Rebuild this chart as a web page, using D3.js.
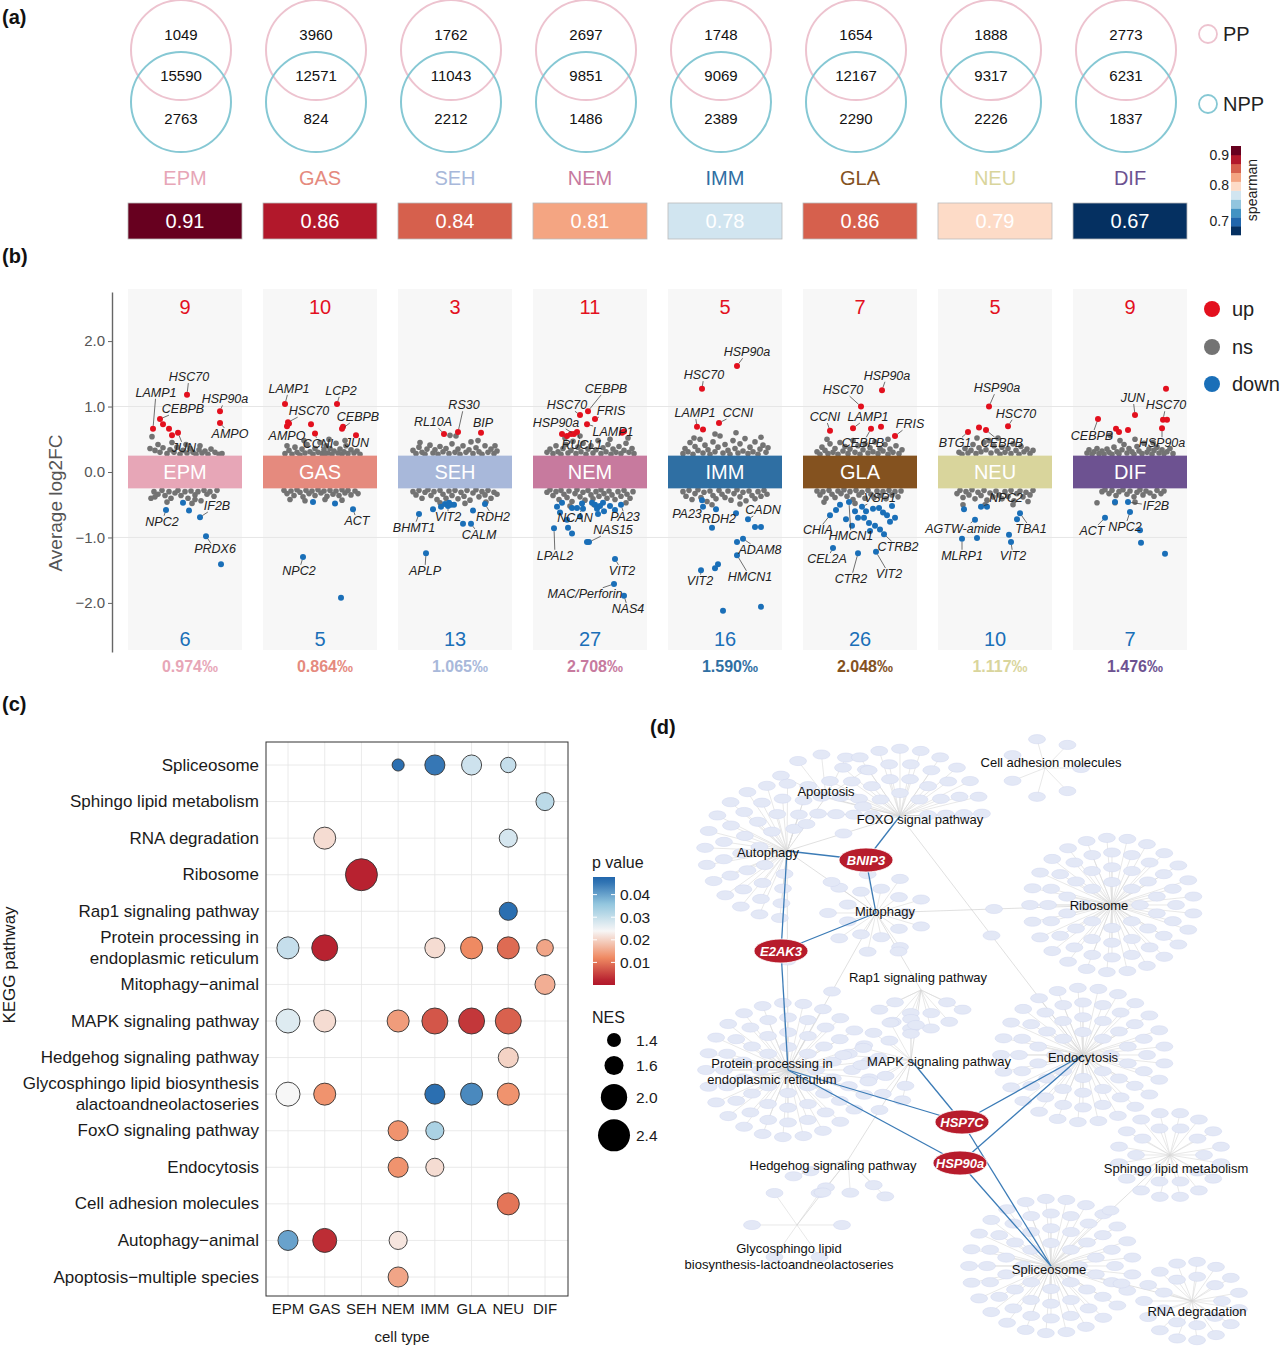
<!DOCTYPE html>
<html>
<head>
<meta charset="utf-8">
<script src="https://cdn.jsdelivr.net/npm/d3@7"></script>
<style>
  body { margin: 0; background: #fff; }
  svg { font-family: "Liberation Sans", Arial, sans-serif; }
</style>
</head>
<body>
<svg id="fig" width="1280" height="1364"></svg>
<script>
// ---------------- DATA ----------------
const cellTypes = ["EPM", "GAS", "SEH", "NEM", "IMM", "GLA", "NEU", "DIF"];
const cellColors = ["#E7A6B7", "#E58A7E", "#A8B8DA", "#C77A9E", "#2F6FA3", "#84521F", "#D9D59C", "#6D5291"];

// (a) venn counts and spearman
const ppOnly = [1049, 3960, 1762, 2697, 1748, 1654, 1888, 2773];
const shared = [15590, 12571, 11043, 9851, 9069, 12167, 9317, 6231];
const nppOnly = [2763, 824, 2212, 1486, 2389, 2290, 2226, 1837];
const spearman = [0.912, 0.8642, 0.84, 0.81, 0.776, 0.856, 0.79, 0.666];
const spearmanTicks = [0.7, 0.8, 0.9];

// (b) DEG summary
const upCount = [9, 10, 3, 11, 5, 7, 5, 9];
const downCount = [6, 5, 13, 27, 16, 26, 10, 7];
const degPermille = [0.974, 0.864, 1.065, 2.708, 1.590, 2.048, 1.117, 1.476];
const log2fcTicks = [-2, -1, 0, 1, 2];

// significant genes: [cell, gene, jitter, log2FC, labelJitter, labelFC]
const degPoints = [
  ["EPM","HSC70",0.04,1.18,0.08,1.45],["EPM","LAMP1",-0.64,0.66,-0.58,1.21],
  ["EPM","CEBPB",-0.5,0.81,-0.04,0.96],["EPM","HSP90a",0.7,0.93,0.8,1.11],
  ["EPM","AMPO",0.7,0.75,0.9,0.58],["EPM","JUN",-0.14,0.6,-0.02,0.37],
  ["EPM","",-0.44,0.73],["EPM","",-0.32,0.66],["EPM","",-0.26,0.56],
  ["EPM","NPC2",-0.38,-0.58,-0.46,-0.76],["EPM","",-0.04,-0.47],["EPM","",0.08,-0.59],
  ["EPM","IF2B",0.3,-0.69,0.64,-0.52],["EPM","PRDX6",0.42,-0.98,0.6,-1.18],["EPM","",0.72,-1.41],

  ["GAS","LAMP1",-0.7,1.04,-0.62,1.27],["GAS","LCP2",0.34,1.04,0.42,1.24],
  ["GAS","HSC70",-0.64,0.76,-0.22,0.93],["GAS","AMPO",-0.66,0.70,-0.66,0.55],
  ["GAS","",-0.62,0.74],["GAS","",-0.18,0.73],["GAS","CEBPB",0.44,0.66,0.76,0.84],
  ["GAS","",0.46,0.69],["GAS","CCNI",-0.1,0.59,-0.04,0.43],["GAS","JUN",0.72,0.56,0.74,0.44],
  ["GAS","",-0.14,-0.46],["GAS","",0.3,-0.48],["GAS","ACT",0.66,-0.57,0.74,-0.75],
  ["GAS","NPC2",-0.34,-1.30,-0.42,-1.51],["GAS","",0.42,-1.92],

  ["SEH","RL10A",-0.22,0.58,-0.44,0.76],["SEH","RS30",0.06,0.61,0.18,1.02],
  ["SEH","BIP",0.52,0.6,0.56,0.75],["SEH","BHMT1",-0.72,-0.64,-0.82,-0.85],
  ["SEH","",-0.44,-0.57],["SEH","",-0.2,-0.49],["SEH","VIT2",-0.14,-0.52,-0.14,-0.69],
  ["SEH","",-0.08,-0.5],["SEH","",-0.12,-0.47],["SEH","",-0.02,-0.5],["SEH","",0.16,-0.79],
  ["SEH","CALM",0.32,-0.79,0.48,-0.96],["SEH","",0.36,-0.59],["SEH","RDH2",0.6,-0.49,0.76,-0.69],
  ["SEH","APLP",-0.58,-1.24,-0.6,-1.51],["SEH","",-0.28,-0.53],

  ["NEM","CEBPB",-0.04,0.93,0.32,1.27],["NEM","HSC70",-0.2,0.87,-0.46,1.02],
  ["NEM","FRIS",0.1,0.81,0.42,0.93],["NEM","LAMP1",-0.06,0.73,0.46,0.61],
  ["NEM","HSP90a",-0.32,0.58,-0.68,0.75],["NEM","",-0.56,0.58],["NEM","",-0.46,0.55],
  ["NEM","",-0.38,0.58],["NEM","RUCL1",-0.26,0.61,-0.16,0.41],["NEM","",0.64,0.6],["NEM","",0.68,0.62],
  ["NEM","",-0.66,-0.53],["NEM","",-0.56,-0.47],["NEM","",-0.36,-0.55],["NEM","",-0.26,-0.55],
  ["NEM","",-0.46,-0.73],["NEM","",-0.44,-0.85],["NEM","",-0.36,-0.94],
  ["NEM","NCAN",-0.14,-0.56,-0.3,-0.7],["NEM","",0.04,-0.47],["NEM","",0.1,-0.5],
  ["NEM","",0.14,-0.56],["NEM","",0.26,-0.47],["NEM","",0.28,-0.6],["NEM","",0.2,-0.52],
  ["NEM","PA23",0.62,-0.5,0.7,-0.69],["NEM","NAS15",-0.02,-1.07,0.46,-0.89],["NEM","",-0.06,-1.07],
  ["NEM","LPAL2",-0.72,-0.86,-0.7,-1.28],["NEM","VIT2",0.5,-1.33,0.64,-1.51],
  ["NEM","MAC/Perforin",0.48,-1.71,-0.1,-1.86],["NEM","NAS4",0.68,-1.89,0.76,-2.09],
  ["NEM","",-0.16,-0.48],["NEM","",0.4,-0.52],["NEM","",-0.6,-0.62],["NEM","",-0.2,-0.68],
  ["NEM","",0.16,-0.64],["NEM","",0.5,-0.58],

  ["IMM","HSP90a",0.24,1.62,0.44,1.83],["IMM","HSC70",-0.46,1.27,-0.42,1.48],
  ["IMM","LAMP1",-0.56,0.69,-0.6,0.9],["IMM","",-0.44,0.65],["IMM","CCNI",-0.12,0.75,0.26,0.9],
  ["IMM","PA23",-0.44,-0.53,-0.76,-0.64],["IMM","RDH2",-0.18,-0.57,-0.12,-0.72],
  ["IMM","",-0.46,-0.43],["IMM","",0.22,-0.63],["IMM","",-0.26,-0.85],
  ["IMM","CADN",0.46,-0.72,0.76,-0.58],["IMM","",0.6,-0.84],["IMM","",0.72,-0.84],
  ["IMM","ADAM8",0.36,-1.02,0.7,-1.19],["IMM","",0.24,-1.07],["IMM","HMCN1",0.24,-1.27,0.5,-1.6],
  ["IMM","VIT2",-0.48,-1.5,-0.5,-1.66],["IMM","",-0.14,-1.41],["IMM","",-0.2,-1.47],
  ["IMM","",-0.04,-2.12],["IMM","",0.72,-2.06],

  ["GLA","HSP90a",0.44,1.25,0.54,1.47],["GLA","HSC70",0.02,1.0,-0.34,1.25],
  ["GLA","CCNI",-0.6,0.63,-0.7,0.84],["GLA","LAMP1",-0.14,0.67,0.16,0.84],
  ["GLA","CEBPB",0.22,0.66,0.06,0.44],["GLA","",0.42,0.69],["GLA","FRIS",0.7,0.55,1.0,0.73],
  ["GLA","VSP1",0.04,-0.53,0.4,-0.4],["GLA","CHIA",-0.6,-0.66,-0.84,-0.89],
  ["GLA","HMCN1",-0.22,-0.46,-0.18,-0.98],["GLA","CTRB2",0.48,-0.95,0.76,-1.15],
  ["GLA","CEL2A",-0.54,-1.16,-0.66,-1.33],["GLA","CTR2",-0.04,-1.24,-0.18,-1.63],
  ["GLA","VIT2",0.32,-1.22,0.58,-1.56],
  ["GLA","",-0.4,-0.5],["GLA","",-0.1,-0.6],["GLA","",-0.04,-0.7],["GLA","",0.08,-0.7],
  ["GLA","",0.18,-0.78],["GLA","",0.3,-0.82],["GLA","",0.38,-0.55],["GLA","",0.46,-0.62],
  ["GLA","",0.54,-0.66],["GLA","",0.64,-0.52],["GLA","",0.6,-0.76],["GLA","",0.26,-0.56],
  ["GLA","",0.12,-0.6],["GLA","",-0.28,-0.72],["GLA","",-0.48,-0.58],["GLA","",0.4,-0.88],
  ["GLA","",0.7,-0.7],["GLA","",-0.16,-0.82],["GLA","",0.2,-0.9],

  ["NEU","HSP90a",-0.12,1.0,0.04,1.28],["NEU","HSC70",0.26,0.7,0.42,0.89],
  ["NEU","BTG1",-0.54,0.61,-0.8,0.44],["NEU","",-0.32,0.68],["NEU","CEBPB",-0.18,0.64,0.14,0.44],
  ["NEU","",-0.62,-0.57],["NEU","NPC2",-0.28,-0.53,0.22,-0.4],["NEU","",-0.16,-0.53],
  ["NEU","AGTW-amide",-0.4,-0.73,-0.64,-0.87],["NEU","TBA1",0.5,-0.63,0.72,-0.87],
  ["NEU","",0.44,-0.72],["NEU","MLRP1",-0.66,-1.02,-0.66,-1.28],["NEU","",-0.36,-1.01],
  ["NEU","VIT2",0.32,-1.07,0.36,-1.28],["NEU","",0.28,-0.96],

  ["DIF","",0.72,1.27],["DIF","JUN",0.1,0.87,0.06,1.13],["DIF","HSC70",0.66,0.8,0.72,1.02],
  ["DIF","",0.74,0.8],["DIF","CEBPB",-0.64,0.81,-0.76,0.55],["DIF","",-0.28,0.66],
  ["DIF","",-0.22,0.61],["DIF","",-0.04,0.64],["DIF","HSP90a",0.64,0.67,0.64,0.44],
  ["DIF","ACT",-0.5,-0.7,-0.76,-0.9],["DIF","",-0.3,-0.46],["DIF","IF2B",-0.04,-0.46,0.52,-0.52],
  ["DIF","NPC2",0.0,-0.61,-0.1,-0.84],["DIF","",0.2,-0.89],["DIF","",0.22,-1.08],["DIF","",0.7,-1.25]
];

// non-significant genes: [jitter, log2FC] per cell type
const nsEPM = [[-0.66,0.54],[-0.7,0.36],[-0.6,0.33],[-0.5,0.3],[-0.44,0.37],[-0.36,0.28],[-0.3,0.34],[-0.22,0.3],[-0.16,0.38],[-0.1,0.27],[-0.04,0.33],[0.04,0.29],[0.1,0.36],[0.16,0.3],[0.22,0.27],[0.28,0.34],[0.34,0.29],[0.4,0.32],[0.46,0.27],[0.52,0.35],[0.6,0.3],[0.68,0.27],[0.74,0.28],[-0.54,0.42],[0.02,0.42],[0.3,0.4],[-0.26,0.45],
  [-0.68,-0.4],[-0.62,-0.3],[-0.54,-0.34],[-0.46,-0.28],[-0.4,-0.36],[-0.32,-0.3],[-0.28,-0.4],[-0.2,-0.32],[-0.14,-0.28],[-0.08,-0.36],[0,-0.3],[0.06,-0.4],[0.12,-0.29],[0.2,-0.35],[0.26,-0.3],[0.32,-0.44],[0.38,-0.28],[0.44,-0.34],[0.5,-0.3],[0.58,-0.37],[0.64,-0.28],[-0.36,-0.46],[0.14,-0.48],[0.2,-0.42],[-0.6,-0.38]];
const nsGAS = [[-0.7,0.28],[-0.62,0.33],[-0.56,0.27],[-0.5,0.38],[-0.46,0.3],[-0.4,0.26],[-0.36,0.35],[-0.3,0.29],[-0.26,0.42],[-0.2,0.31],[-0.14,0.27],[-0.1,0.36],[-0.04,0.3],[0,0.45],[0.04,0.28],[0.08,0.34],[0.12,0.4],[0.16,0.29],[0.2,0.36],[0.24,0.27],[0.28,0.32],[0.32,0.44],[0.36,0.29],[0.4,0.35],[0.44,0.27],[0.48,0.31],[0.52,0.4],[0.56,0.28],[0.62,0.34],[0.68,0.29],[0.74,0.32],[0.8,0.27],[-0.66,0.4],[0.18,0.5],[-0.32,0.48],[0.1,0.28],[0.5,0.48],
  [-0.72,-0.28],[-0.66,-0.33],[-0.58,-0.29],[-0.52,-0.36],[-0.46,-0.27],[-0.4,-0.31],[-0.34,-0.38],[-0.28,-0.28],[-0.22,-0.33],[-0.16,-0.29],[-0.1,-0.36],[-0.04,-0.27],[0.02,-0.32],[0.08,-0.29],[0.14,-0.37],[0.2,-0.28],[0.26,-0.34],[0.32,-0.29],[0.38,-0.36],[0.44,-0.27],[0.5,-0.32],[0.56,-0.28],[0.62,-0.35],[0.7,-0.29],[0.76,-0.33],[-0.3,-0.44],[0.1,-0.42],[0.44,-0.43],[-0.6,-0.42]];
const nsSEH = [[-0.84,0.33],[-0.78,0.28],[-0.72,0.38],[-0.66,0.3],[-0.6,0.27],[-0.56,0.35],[-0.5,0.41],[-0.44,0.29],[-0.4,0.34],[-0.34,0.27],[-0.3,0.39],[-0.24,0.31],[-0.18,0.36],[-0.12,0.28],[-0.06,0.43],[0,0.3],[0.06,0.35],[0.1,0.27],[0.16,0.4],[0.22,0.3],[0.28,0.34],[0.32,0.46],[0.36,0.28],[0.42,0.37],[0.48,0.31],[0.54,0.27],[0.6,0.4],[0.66,0.3],[0.72,0.35],[0.78,0.28],[0.84,0.32],[-0.1,0.56],[0.02,0.55],[0.46,0.48],[0.8,0.4],[-0.7,0.45],
  [-0.84,-0.3],[-0.78,-0.35],[-0.72,-0.28],[-0.66,-0.4],[-0.6,-0.31],[-0.54,-0.27],[-0.48,-0.36],[-0.42,-0.3],[-0.36,-0.42],[-0.3,-0.28],[-0.24,-0.34],[-0.18,-0.4],[-0.12,-0.29],[-0.06,-0.36],[0,-0.28],[0.06,-0.41],[0.12,-0.31],[0.18,-0.37],[0.24,-0.28],[0.3,-0.43],[0.36,-0.32],[0.42,-0.27],[0.48,-0.38],[0.54,-0.3],[0.6,-0.35],[0.66,-0.28],[0.72,-0.4],[0.78,-0.31],[0.84,-0.34],[0.2,-0.48],[-0.3,-0.47],[0.62,-0.46]];
const nsNEM = [[-0.86,0.3],[-0.8,0.35],[-0.74,0.28],[-0.68,0.4],[-0.64,0.31],[-0.58,0.27],[-0.54,0.36],[-0.48,0.42],[-0.44,0.29],[-0.38,0.33],[-0.34,0.47],[-0.28,0.28],[-0.24,0.38],[-0.18,0.31],[-0.14,0.44],[-0.08,0.27],[-0.04,0.35],[0.02,0.4],[0.06,0.29],[0.12,0.34],[0.16,0.48],[0.22,0.28],[0.26,0.37],[0.32,0.31],[0.36,0.42],[0.42,0.27],[0.46,0.35],[0.52,0.3],[0.58,0.39],[0.62,0.28],[0.68,0.33],[0.72,0.44],[0.78,0.3],[0.84,0.36],[0.88,0.28],[-0.5,0.52],[0.4,0.5],[0.76,0.52],[-0.2,0.55],
  [-0.86,-0.31],[-0.8,-0.27],[-0.74,-0.36],[-0.68,-0.3],[-0.62,-0.42],[-0.58,-0.28],[-0.52,-0.34],[-0.46,-0.39],[-0.42,-0.29],[-0.36,-0.45],[-0.3,-0.33],[-0.26,-0.27],[-0.2,-0.38],[-0.14,-0.31],[-0.1,-0.43],[-0.04,-0.28],[0.02,-0.35],[0.06,-0.41],[0.12,-0.3],[0.18,-0.37],[0.22,-0.27],[0.28,-0.33],[0.34,-0.4],[0.38,-0.29],[0.44,-0.35],[0.5,-0.42],[0.56,-0.3],[0.62,-0.37],[0.68,-0.28],[0.74,-0.34],[0.8,-0.4],[0.86,-0.3],[-0.4,-0.52],[0.08,-0.5],[0.72,-0.47]];
const nsIMM = [[-0.84,0.28],[-0.8,0.36],[-0.74,0.31],[-0.7,0.45],[-0.64,0.27],[-0.6,0.39],[-0.54,0.33],[-0.5,0.5],[-0.44,0.29],[-0.4,0.41],[-0.34,0.34],[-0.3,0.27],[-0.24,0.46],[-0.2,0.31],[-0.14,0.38],[-0.1,0.55],[-0.04,0.29],[0,0.42],[0.06,0.33],[0.1,0.27],[0.16,0.48],[0.2,0.36],[0.26,0.29],[0.3,0.43],[0.36,0.32],[0.4,0.51],[0.46,0.28],[0.5,0.38],[0.56,0.31],[0.6,0.46],[0.66,0.27],[0.7,0.35],[0.76,0.41],[0.82,0.3],[0.86,0.37],[-0.62,0.52],[0.72,0.53],[-0.2,0.58],[0.22,0.6],
  [-0.84,-0.3],[-0.78,-0.37],[-0.72,-0.28],[-0.66,-0.42],[-0.6,-0.33],[-0.54,-0.27],[-0.48,-0.39],[-0.42,-0.31],[-0.36,-0.45],[-0.3,-0.29],[-0.24,-0.36],[-0.18,-0.41],[-0.12,-0.28],[-0.06,-0.34],[0,-0.39],[0.06,-0.29],[0.12,-0.43],[0.18,-0.33],[0.24,-0.27],[0.3,-0.38],[0.36,-0.31],[0.42,-0.44],[0.48,-0.29],[0.54,-0.36],[0.6,-0.41],[0.66,-0.3],[0.72,-0.37],[0.78,-0.28],[0.84,-0.34],[-0.26,-0.5],[0.3,-0.49]];
const nsGLA = [[-0.86,0.31],[-0.8,0.27],[-0.76,0.38],[-0.7,0.33],[-0.64,0.28],[-0.6,0.43],[-0.54,0.3],[-0.5,0.36],[-0.44,0.27],[-0.4,0.45],[-0.34,0.32],[-0.3,0.39],[-0.24,0.28],[-0.2,0.35],[-0.14,0.48],[-0.1,0.3],[-0.04,0.4],[0,0.27],[0.06,0.34],[0.1,0.43],[0.16,0.29],[0.2,0.37],[0.26,0.31],[0.3,0.46],[0.36,0.28],[0.4,0.36],[0.46,0.32],[0.5,0.42],[0.56,0.27],[0.6,0.35],[0.66,0.3],[0.72,0.4],[0.78,0.28],[0.84,0.34],[-0.66,0.5],[0.56,0.5],
  [-0.86,-0.29],[-0.8,-0.35],[-0.74,-0.3],[-0.68,-0.4],[-0.62,-0.28],[-0.56,-0.34],[-0.5,-0.39],[-0.44,-0.29],[-0.38,-0.33],[-0.32,-0.27],[-0.26,-0.37],[-0.2,-0.3],[-0.14,-0.42],[-0.08,-0.28],[-0.02,-0.35],[0.04,-0.31],[0.1,-0.4],[0.16,-0.28],[0.22,-0.34],[0.28,-0.39],[0.34,-0.29],[0.4,-0.36],[0.46,-0.3],[0.52,-0.41],[0.58,-0.28],[0.64,-0.35],[0.7,-0.3],[0.76,-0.38],[0.82,-0.29],[-0.72,-0.46],[-0.1,-0.48]];
const nsNEU = [[-0.72,0.3],[-0.66,0.27],[-0.6,0.36],[-0.54,0.29],[-0.48,0.33],[-0.44,0.42],[-0.38,0.28],[-0.32,0.37],[-0.28,0.31],[-0.22,0.45],[-0.18,0.34],[-0.12,0.48],[-0.08,0.29],[-0.02,0.4],[0.04,0.32],[0.1,0.27],[0.14,0.38],[0.2,0.3],[0.26,0.36],[0.32,0.28],[0.36,0.43],[0.42,0.33],[0.48,0.27],[0.52,0.39],[0.58,0.31],[0.64,0.35],[0.7,0.28],[0.76,0.33],[-0.36,0.52],[0.06,0.52],
  [-0.76,-0.33],[-0.7,-0.28],[-0.64,-0.39],[-0.58,-0.3],[-0.52,-0.35],[-0.46,-0.27],[-0.4,-0.41],[-0.34,-0.31],[-0.28,-0.36],[-0.22,-0.28],[-0.16,-0.43],[-0.1,-0.32],[-0.04,-0.38],[0.02,-0.29],[0.08,-0.35],[0.14,-0.41],[0.2,-0.3],[0.26,-0.37],[0.32,-0.28],[0.38,-0.44],[0.44,-0.33],[0.5,-0.29],[0.56,-0.38],[0.62,-0.31],[0.7,-0.35],[0.76,-0.28],[-0.64,-0.5],[-0.2,-0.5],[0.36,-0.5],[0.66,-0.45]];
const nsDIF = [[-0.86,0.29],[-0.82,0.34],[-0.76,0.27],[-0.72,0.31],[-0.66,0.36],[-0.62,0.28],[-0.56,0.32],[-0.52,0.27],[-0.46,0.35],[-0.42,0.3],[-0.36,0.27],[-0.32,0.38],[-0.26,0.31],[-0.22,0.28],[-0.16,0.34],[-0.12,0.42],[-0.06,0.29],[-0.02,0.36],[0.04,0.31],[0.08,0.27],[0.14,0.39],[0.18,0.32],[0.24,0.28],[0.28,0.44],[0.34,0.3],[0.38,0.35],[0.44,0.27],[0.48,0.33],[0.54,0.38],[0.58,0.29],[0.64,0.34],[0.68,0.28],[0.74,0.31],[0.8,0.36],[0.86,0.28],[-0.4,0.56],[-0.2,0.48],[0.1,0.5],[0.46,0.45],
  [-0.56,-0.3],[-0.5,-0.27],[-0.42,-0.33],[-0.36,-0.28],[-0.28,-0.36],[-0.22,-0.3],[-0.14,-0.27],[-0.06,-0.34],[0,-0.29],[0.08,-0.38],[0.14,-0.31],[0.2,-0.27],[0.26,-0.35],[0.32,-0.29],[0.4,-0.32],[0.48,-0.37],[0.54,-0.28],[0.62,-0.33],[0.68,-0.29],[-0.66,-0.47],[-0.3,-0.47],[0.1,-0.46]];
const nsByCell = [nsEPM, nsGAS, nsSEH, nsNEM, nsIMM, nsGLA, nsNEU, nsDIF];

// (c) KEGG enrichment
const pathways = ["Spliceosome", "Sphingo lipid metabolism", "RNA degradation", "Ribosome",
  "Rap1 signaling pathway", "Protein processing in\nendoplasmic reticulum", "Mitophagy\u2212animal",
  "MAPK signaling pathway", "Hedgehog signaling pathway",
  "Glycosphingo lipid biosynthesis\nalactoandneolactoseries", "FoxO signaling pathway",
  "Endocytosis", "Cell adhesion molecules", "Autophagy\u2212animal", "Apoptosis\u2212multiple species"];
// [pathway index, cell, p value, NES]
const keggHits = [
  [0,"NEM",0.046,1.34],[0,"IMM",0.045,1.65],[0,"GLA",0.029,1.65],[0,"NEU",0.030,1.45],
  [1,"DIF",0.031,1.56],
  [2,"GAS",0.021,1.75],[2,"NEU",0.028,1.56],
  [3,"SEH",0.002,2.4],
  [4,"NEU",0.046,1.56],
  [5,"EPM",0.030,1.75],[5,"GAS",0.002,1.98],[5,"IMM",0.021,1.65],[5,"GLA",0.012,1.75],[5,"NEU",0.009,1.75],[5,"DIF",0.015,1.5],
  [6,"DIF",0.016,1.65],
  [7,"EPM",0.027,1.86],[7,"GAS",0.021,1.75],[7,"NEM",0.014,1.75],[7,"IMM",0.007,1.98],[7,"GLA",0.004,1.98],[7,"NEU",0.008,1.98],
  [8,"NEU",0.020,1.65],
  [9,"EPM",0.024,1.86],[9,"GAS",0.013,1.75],[9,"IMM",0.046,1.65],[9,"GLA",0.043,1.75],[9,"NEU",0.013,1.75],
  [10,"NEM",0.013,1.65],[10,"IMM",0.033,1.56],
  [11,"NEM",0.013,1.65],[11,"IMM",0.021,1.56],
  [12,"NEU",0.010,1.75],
  [13,"EPM",0.040,1.65],[13,"GAS",0.003,1.86],[13,"NEM",0.022,1.56],
  [14,"NEM",0.015,1.65]
];
const pTicks = [0.01, 0.02, 0.03, 0.04];
const nesBreaks = [1.4, 1.6, 2.0, 2.4];

// (d) network layout (layout units)
const netHubs = [
  {id:"apo", name:"Apoptosis", x:166, y:82, n:5, a0:-150, a1:-40, r0:52, lx:0, ly:-6},
  {id:"cam", name:"Cell adhesion molecules", x:385, y:53, n:7, a0:0, a1:360, r0:36, lx:6, ly:-6},
  {id:"foxo", name:"FOXO signal pathway", x:240, y:101, n:36, a0:-178, a1:-2, r0:28, lx:20, ly:3},
  {id:"auto", name:"Autophagy", x:127, y:136, n:38, a0:95, a1:285, r0:28, lx:-19, ly:1},
  {id:"mito", name:"Mitophagy", x:216, y:198, n:18, a0:0, a1:360, r0:30, lx:9, ly:-2},
  {id:"ribo", name:"Ribosome", x:452, y:190, n:67, a0:0, a1:360, r0:28, lx:-13, ly:0},
  {id:"rap1", name:"Rap1 signaling pathway", x:261, y:275, n:10, a0:30, a1:150, r0:30, lx:-3, ly:-13},
  {id:"ppe", name:"Protein processing in\nendoplasmic reticulum", x:128, y:355, n:67, a0:0, a1:360, r0:28, lx:-16, ly:1},
  {id:"mapk", name:"MAPK signaling pathway", x:251, y:345, n:14, a0:100, a1:270, r0:32, lx:28, ly:1},
  {id:"endo", name:"Endocytosis", x:423, y:340, n:67, a0:0, a1:360, r0:28, lx:0, ly:2},
  {id:"hh", name:"Hedgehog signaling pathway", x:188, y:445, n:6, a0:50, a1:160, r0:40, lx:-15, ly:5},
  {id:"sphingo", name:"Sphingo lipid metabolism", x:510, y:440, n:26, a0:0, a1:360, r0:34, lx:6, ly:13},
  {id:"glyco", name:"Glycosphingo lipid\nbiosynthesis-lactoandneolactoseries", x:137, y:510, n:6, a0:0, a1:360, r0:45, lx:-8, ly:31},
  {id:"splice", name:"Spliceosome", x:391, y:551, n:67, a0:0, a1:360, r0:28, lx:-2, ly:3},
  {id:"rna", name:"RNA degradation", x:532, y:586, n:24, a0:0, a1:360, r0:30, lx:5, ly:10}
];
const netGenes = [
  {id:"BNIP3", x:206, y:145}, {id:"E2AK3", x:121, y:236},
  {id:"HSP7C", x:302, y:407}, {id:"HSP90a", x:300, y:448}
];
const blueEdges = [["auto","BNIP3"],["foxo","BNIP3"],["BNIP3","mito"],["auto","E2AK3"],["E2AK3","mito"],
  ["E2AK3","ppe"],["ppe","HSP7C"],["ppe","HSP90a"],["mapk","HSP7C"],["endo","HSP7C"],["endo","HSP90a"],
  ["HSP7C","splice"],["HSP90a","splice"]];
const grayLinks = [["foxo","endo"],["mito","ribo"],["auto","mito"],["auto","apo"],["auto","ppe"],["mito","rap1"],
  ["rap1","mapk"],["mapk","hh"],["hh","glyco"],["sphingo","splice"],["splice","rna"],["foxo","apo"],
  ["auto","foxo"],["mito","ppe"]];

// ---------------- DRAWING ----------------
const svg = d3.select("#fig");
const colorOf = d3.scaleOrdinal(cellTypes, cellColors);

[["(a)", 2, 24], ["(b)", 2, 263], ["(c)", 2, 711], ["(d)", 650, 734]].forEach(([t, x, y]) => {
  svg.append("text").attr("x", x).attr("y", y).text(t)
    .style("font-size", "20px").style("font-weight", "bold").style("fill", "#111");
});

// shared column scale for (a) and (b)
const xCol = d3.scaleBand().domain(cellTypes).range([128, 1187]).paddingInner(21 / 135);
const bw = xCol.bandwidth();
const cxOf = c => xCol(c) + bw / 2;

// ---- (a) ----
const gA = svg.append("g");
cellTypes.forEach((c, i) => {
  const cx = cxOf(c) - 4;
  gA.append("circle").attr("cx", cx).attr("cy", 50).attr("r", 50)
    .attr("fill", "none").attr("stroke", "#EDC3CF").attr("stroke-width", 2);
  gA.append("circle").attr("cx", cx).attr("cy", 102).attr("r", 50)
    .attr("fill", "none").attr("stroke", "#86C8D4").attr("stroke-width", 2);
  [[ppOnly[i], 34], [shared[i], 75], [nppOnly[i], 118]].forEach(([v, y]) => {
    gA.append("text").attr("x", cx).attr("y", y).attr("text-anchor", "middle")
      .attr("dominant-baseline", "central").text(v).style("font-size", "15px").style("fill", "#111");
  });
  gA.append("text").attr("x", cxOf(c)).attr("y", 178).attr("text-anchor", "middle")
    .attr("dominant-baseline", "central").text(c).style("font-size", "20px").style("fill", colorOf(c));
});

const rhoColor = d3.scaleQuantize().domain([0.64, 0.92])
  .range(["#053061", "#2166AC", "#4393C3", "#92C5DE", "#D1E5F0", "#FDDBC7", "#F4A582", "#D6604D", "#B2182B", "#67001F"]);
cellTypes.forEach((c, i) => {
  gA.append("rect").attr("x", xCol(c)).attr("y", 203).attr("width", bw).attr("height", 36)
    .attr("fill", rhoColor(spearman[i])).attr("stroke", "#bbb").attr("stroke-width", 0.8);
  gA.append("text").attr("x", cxOf(c)).attr("y", 221).attr("text-anchor", "middle")
    .attr("dominant-baseline", "central").text(d3.format(".2f")(spearman[i]))
    .style("font-size", "20px").style("fill", "#fff");
});

// PP / NPP legend
[["PP", "#EDC3CF", 34], ["NPP", "#86C8D4", 104]].forEach(([t, col, y]) => {
  gA.append("circle").attr("cx", 1208).attr("cy", y).attr("r", 9)
    .attr("fill", "none").attr("stroke", col).attr("stroke-width", 1.8);
  gA.append("text").attr("x", 1223).attr("y", y).attr("dominant-baseline", "central")
    .text(t).style("font-size", "20px").style("fill", "#222");
});

// spearman colour bar (equal bins, labelled as in the original legend)
const binY = d3.scaleLinear().domain([0.64, 0.92]).range([235, 146]);
const tickY = d3.scaleLinear().domain([0.7, 0.8, 0.9]).range([221, 185, 155]);
rhoColor.range().forEach(col => {
  const [lo, hi] = rhoColor.invertExtent(col);
  gA.append("rect").attr("x", 1231).attr("y", binY(hi)).attr("width", 10)
    .attr("height", binY(lo) - binY(hi) + 0.3).attr("fill", col);
});
spearmanTicks.forEach(t => {
  gA.append("text").attr("x", 1229).attr("y", tickY(t)).attr("text-anchor", "end")
    .attr("dominant-baseline", "central").text(d3.format(".1f")(t))
    .style("font-size", "14px").style("fill", "#222");
});
gA.append("text").attr("transform", "translate(1252,190) rotate(-90)").attr("text-anchor", "middle")
  .attr("dominant-baseline", "central").text("spearman").style("font-size", "14px").style("fill", "#222");

// ---- (b) ----
const gB = svg.append("g");
const yFC = d3.scaleLinear().domain([-2.75, 2.75]).range([652, 292]);
const jit = d3.scaleLinear().domain([-1, 1]).range([-50, 50]);
const upCol = "#E3101E", downCol = "#1A6FB8", nsCol = "#737373";

cellTypes.forEach(c => {
  gB.append("rect").attr("x", xCol(c)).attr("y", 289).attr("width", bw).attr("height", 361).attr("fill", "#F7F7F7");
});
[1, -1].forEach(v => {
  gB.append("line").attr("x1", 113).attr("x2", 1187).attr("y1", yFC(v)).attr("y2", yFC(v))
    .attr("stroke", "#E6E6E6").attr("stroke-width", 1);
});

// y axis
const yAxis = gB.append("g").attr("transform", "translate(112,0)")
  .call(d3.axisLeft(yFC).tickValues(log2fcTicks).tickFormat(d3.format(".1f")).tickSize(4).tickSizeOuter(0));
yAxis.select(".domain").attr("stroke", "#666").attr("stroke-width", 1.4);
yAxis.selectAll(".tick line").attr("stroke", "#666");
yAxis.selectAll(".tick text").style("font-size", "15px").style("fill", "#555")
  .style("font-family", '"Liberation Sans", Arial, sans-serif');
gB.append("text").attr("transform", "translate(55,503) rotate(-90)").attr("text-anchor", "middle")
  .attr("dominant-baseline", "central").text("Average log2FC").style("font-size", "19px").style("fill", "#555");

// gray ns points
cellTypes.forEach((c, i) => {
  gB.selectAll(null).data(nsByCell[i]).enter().append("circle")
    .attr("cx", d => cxOf(c) + jit(d[0])).attr("cy", d => yFC(d[1])).attr("r", 2.8).attr("fill", nsCol);
});

// bands
cellTypes.forEach(c => {
  gB.append("rect").attr("x", xCol(c)).attr("y", yFC(0.25)).attr("width", bw)
    .attr("height", yFC(-0.25) - yFC(0.25)).attr("fill", colorOf(c));
  gB.append("text").attr("x", cxOf(c)).attr("y", yFC(0)).attr("text-anchor", "middle")
    .attr("dominant-baseline", "central").text(c).style("font-size", "20px").style("fill", "#fff");
});

// significant points + labels
const degRows = degPoints.map(d => ({cell: d[0], gene: d[1], jitter: d[2], fc: d[3], lj: d[4], lfc: d[5]}));
gB.selectAll(null).data(degRows).enter().append("circle")
  .attr("cx", d => cxOf(d.cell) + jit(d.jitter)).attr("cy", d => yFC(d.fc)).attr("r", 3)
  .attr("fill", d => d.fc > 0 ? upCol : downCol);

degRows.filter(d => d.gene).forEach(d => {
  const px = cxOf(d.cell) + jit(d.jitter), py = yFC(d.fc);
  const t = gB.append("text").attr("x", cxOf(d.cell) + jit(d.lj)).attr("y", yFC(d.lfc))
    .attr("text-anchor", "middle").attr("dominant-baseline", "central").text(d.gene)
    .style("font-size", "12.5px").style("font-style", "italic").style("fill", "#222");
  const bb = t.node().getBBox();
  const cx = bb.x + bb.width / 2, cy = bb.y + bb.height / 2;
  const dx = px - cx, dy = py - cy;
  const hw = bb.width / 2 + 1, hh = bb.height / 2 - 1;
  if (Math.abs(dx) <= hw && Math.abs(dy) <= hh) return;
  const s = Math.min(dx ? hw / Math.abs(dx) : Infinity, dy ? hh / Math.abs(dy) : Infinity);
  const sx = cx + dx * s, sy = cy + dy * s;
  const len = Math.hypot(px - sx, py - sy);
  if (len < 4) return;
  const ex = px - (px - sx) / len * 3, ey = py - (py - sy) / len * 3;
  gB.append("line").attr("x1", sx).attr("y1", sy).attr("x2", ex).attr("y2", ey)
    .attr("stroke", "#333").attr("stroke-width", 0.7);
});

// counts and percentages
cellTypes.forEach((c, i) => {
  gB.append("text").attr("x", cxOf(c)).attr("y", 307).attr("text-anchor", "middle").attr("dominant-baseline", "central")
    .text(upCount[i]).style("font-size", "20px").style("fill", upCol);
  gB.append("text").attr("x", cxOf(c)).attr("y", 639).attr("text-anchor", "middle").attr("dominant-baseline", "central")
    .text(downCount[i]).style("font-size", "20px").style("fill", downCol);
  gB.append("text").attr("x", cxOf(c) + 5).attr("y", 666).attr("text-anchor", "middle").attr("dominant-baseline", "central")
    .text(d3.format(".3f")(degPermille[i]) + "\u2030").style("font-size", "16px").style("font-weight", "bold")
    .style("fill", colorOf(c));
});

// up/ns/down legend
[["up", upCol, 309], ["ns", nsCol, 347], ["down", downCol, 384]].forEach(([t, col, y]) => {
  gB.append("circle").attr("cx", 1212).attr("cy", y).attr("r", 8).attr("fill", col);
  gB.append("text").attr("x", 1232).attr("y", y).attr("dominant-baseline", "central")
    .text(t).style("font-size", "20px").style("fill", "#222");
});

// ---- (c) ----
const gC = svg.append("g");
const xK = d3.scalePoint().domain(cellTypes).range([288, 545]);
const yK = d3.scalePoint().domain(pathways).range([765, 1277]);
const pColor = d3.scaleLinear().domain([0.001, 0.012, 0.024, 0.036, 0.047])
  .range(["#B2182B", "#EF8A62", "#F7F7F7", "#92C5DE", "#2166AC"]).clamp(true);
const rNES = d3.scaleRadial().domain([1.4, 2.4]).range([7, 16]);

gC.append("rect").attr("x", 266).attr("y", 742).attr("width", 302).attr("height", 554).attr("fill", "#fff");
cellTypes.forEach(c => {
  gC.append("line").attr("x1", xK(c)).attr("x2", xK(c)).attr("y1", 742).attr("y2", 1296)
    .attr("stroke", "#E4E4E4").attr("stroke-width", 0.8);
});
pathways.forEach(p => {
  gC.append("line").attr("x1", 266).attr("x2", 568).attr("y1", yK(p)).attr("y2", yK(p))
    .attr("stroke", "#E4E4E4").attr("stroke-width", 0.8);
});
gC.append("rect").attr("x", 266).attr("y", 742).attr("width", 302).attr("height", 554)
  .attr("fill", "none").attr("stroke", "#333").attr("stroke-width", 1);

gC.selectAll(null).data(keggHits).enter().append("circle")
  .attr("cx", d => xK(d[1])).attr("cy", d => yK(pathways[d[0]])).attr("r", d => rNES(d[3]))
  .attr("fill", d => pColor(d[2])).attr("stroke", "#333").attr("stroke-width", 0.9);

pathways.forEach(p => {
  const lines = p.split("\n");
  const t = gC.append("text").attr("x", 259).attr("y", yK(p)).attr("text-anchor", "end")
    .style("font-size", "17px").style("fill", "#1a1a1a");
  lines.forEach((ln, k) => {
    t.append("tspan").attr("x", 259).attr("y", yK(p) + (k - (lines.length - 1) / 2) * 21)
      .attr("dominant-baseline", "central").text(ln);
  });
});
cellTypes.forEach(c => {
  gC.append("text").attr("x", xK(c)).attr("y", 1308).attr("text-anchor", "middle").attr("dominant-baseline", "central")
    .text(c).style("font-size", "15px").style("fill", "#1a1a1a");
});
gC.append("text").attr("x", 402).attr("y", 1336).attr("text-anchor", "middle").attr("dominant-baseline", "central")
  .text("cell type").style("font-size", "15px").style("fill", "#1a1a1a");
gC.append("text").attr("transform", "translate(9,965) rotate(-90)").attr("text-anchor", "middle")
  .attr("dominant-baseline", "central").text("KEGG pathway").style("font-size", "17px").style("fill", "#1a1a1a");

// p value legend
const pLeg = d3.scaleLinear().domain([0, 0.0478]).range([985, 877]);
const grad = svg.append("defs").append("linearGradient").attr("id", "pgrad")
  .attr("x1", 0).attr("y1", 1).attr("x2", 0).attr("y2", 0);
d3.range(0, 21).forEach(k => {
  grad.append("stop").attr("offset", k / 20).attr("stop-color", pColor(0.0478 * k / 20));
});
gC.append("text").attr("x", 592).attr("y", 862).attr("dominant-baseline", "central")
  .text("p value").style("font-size", "16px").style("fill", "#1a1a1a");
gC.append("rect").attr("x", 593).attr("y", 877).attr("width", 22).attr("height", 108).attr("fill", "url(#pgrad)");
pTicks.forEach(t => {
  gC.append("line").attr("x1", 593).attr("x2", 597).attr("y1", pLeg(t)).attr("y2", pLeg(t)).attr("stroke", "#fff");
  gC.append("line").attr("x1", 611).attr("x2", 615).attr("y1", pLeg(t)).attr("y2", pLeg(t)).attr("stroke", "#fff");
  gC.append("text").attr("x", 620).attr("y", pLeg(t)).attr("dominant-baseline", "central")
    .text(d3.format(".2f")(t)).style("font-size", "15.5px").style("fill", "#1a1a1a");
});
gC.append("text").attr("x", 592).attr("y", 1017).attr("dominant-baseline", "central")
  .text("NES").style("font-size", "16px").style("fill", "#1a1a1a");
let legY = 1033;
nesBreaks.forEach((v, k) => {
  const r = rNES(v);
  legY += (k === 0 ? r : r + 9);
  gC.append("circle").attr("cx", 614).attr("cy", legY).attr("r", r).attr("fill", "#000");
  gC.append("text").attr("x", 636).attr("y", legY).attr("dominant-baseline", "central")
    .text(d3.format(".1f")(v)).style("font-size", "15.5px").style("fill", "#1a1a1a");
  legY += r;
});

// ---- (d) ----
const gD = svg.append("g");
const xN = d3.scaleLinear().domain([0, 600]).range([660, 1260]);
const yN = d3.scaleLinear().domain([0, 640]).range([715, 1355]);
const nodeById = {};
netHubs.forEach(h => nodeById[h.id] = h);
netGenes.forEach(g => nodeById[g.id] = g);

function ringLayout(h) {
  const pts = [];
  const full = (h.a1 - h.a0) >= 360;
  const span = (h.a1 - h.a0) * Math.PI / 180;
  let k = 0;
  while (pts.length < h.n) {
    const r = h.r0 + k * 18;
    const cap = Math.max(1, Math.floor(r * span / 20) + (full ? 0 : 1));
    const m = Math.min(cap, h.n - pts.length);
    for (let i = 0; i < m; i++) {
      const t = full ? (i + (k % 2) * 0.5) / m : (m === 1 ? 0.5 : i / (m - 1));
      const a = h.a0 * Math.PI / 180 + t * span;
      pts.push([h.x + r * Math.cos(a), h.y + r * Math.sin(a) * 0.82]);
    }
    k++;
  }
  return pts;
}

const satellites = [];
netHubs.forEach(h => ringLayout(h).forEach(p => satellites.push({hub: h, x: p[0], y: p[1]})));
const linkNodes = grayLinks.map(([a, b]) => ({
  a: nodeById[a], b: nodeById[b],
  x: (nodeById[a].x + nodeById[b].x) / 2, y: (nodeById[a].y + nodeById[b].y) / 2
}));

// spokes
gD.selectAll(null).data(satellites).enter().append("line")
  .attr("x1", d => xN(d.hub.x)).attr("y1", d => yN(d.hub.y)).attr("x2", d => xN(d.x)).attr("y2", d => yN(d.y))
  .attr("stroke", "#D8D8D8").attr("stroke-width", 0.6);
gD.selectAll(null).data(linkNodes).enter().append("line")
  .attr("x1", d => xN(d.a.x)).attr("y1", d => yN(d.a.y)).attr("x2", d => xN(d.b.x)).attr("y2", d => yN(d.b.y))
  .attr("stroke", "#D2D2D2").attr("stroke-width", 0.7);
// satellite nodes
gD.selectAll(null).data(satellites.concat(linkNodes)).enter().append("ellipse")
  .attr("cx", d => xN(d.x)).attr("cy", d => yN(d.y)).attr("rx", 8.5).attr("ry", 4.6)
  .attr("fill", "#E3E8F6").attr("stroke", "#D0D7EE").attr("stroke-width", 0.5);
// blue edges
gD.selectAll(null).data(blueEdges).enter().append("line")
  .attr("x1", d => xN(nodeById[d[0]].x)).attr("y1", d => yN(nodeById[d[0]].y))
  .attr("x2", d => xN(nodeById[d[1]].x)).attr("y2", d => yN(nodeById[d[1]].y))
  .attr("stroke", "#3B7BB6").attr("stroke-width", 1.3);
// gene nodes
netGenes.forEach(g => {
  gD.append("ellipse").attr("cx", xN(g.x)).attr("cy", yN(g.y)).attr("rx", 27).attr("ry", 12)
    .attr("fill", "#B71C2C").attr("stroke", "#fff").attr("stroke-width", 0.8);
  gD.append("text").attr("x", xN(g.x)).attr("y", yN(g.y)).attr("text-anchor", "middle")
    .attr("dominant-baseline", "central").text(g.id).style("font-size", "13px")
    .style("font-style", "italic").style("font-weight", "bold").style("fill", "#fff");
});
// hub labels
netHubs.forEach(h => {
  const lines = h.name.split("\n");
  const t = gD.append("text").attr("text-anchor", "middle").style("font-size", "13px").style("fill", "#111");
  lines.forEach((ln, k) => {
    t.append("tspan").attr("x", xN(h.x + h.lx)).attr("y", yN(h.y + h.ly) + (k - (lines.length - 1) / 2) * 16)
      .attr("dominant-baseline", "central").text(ln);
  });
});
</script>
</body>
</html>
